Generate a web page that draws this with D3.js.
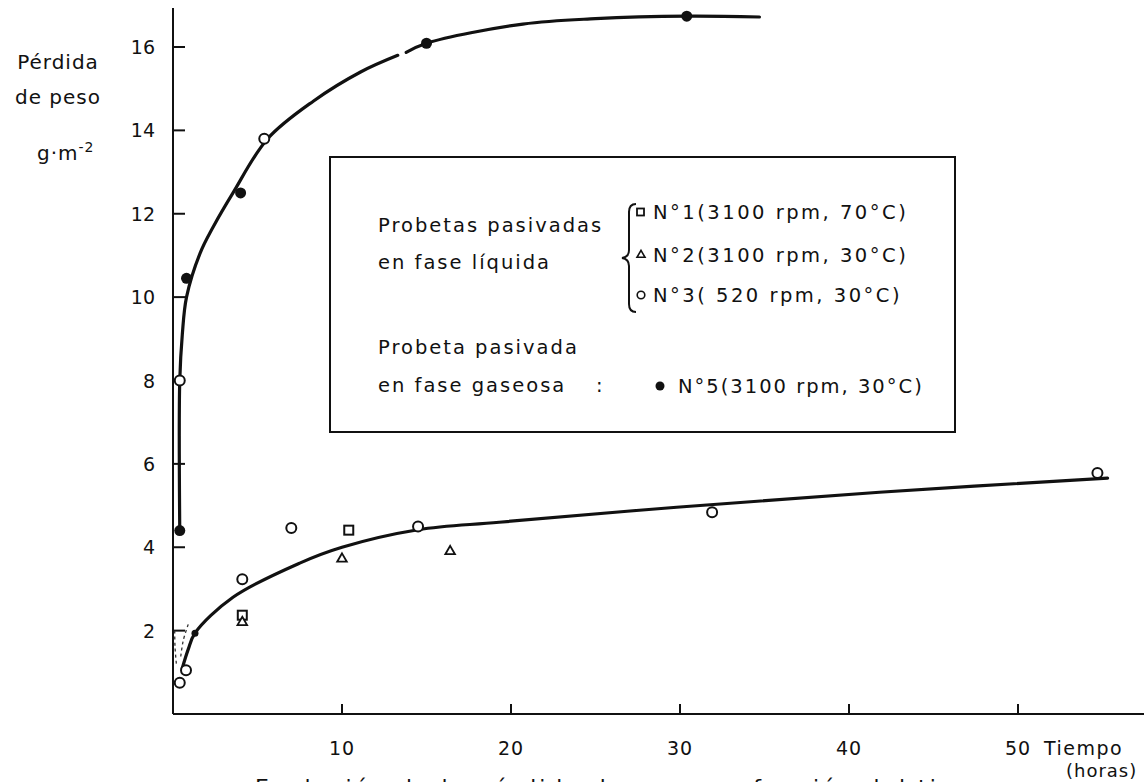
<!DOCTYPE html>
<head>
<meta charset="utf-8">
<script src="https://d3js.org/d3.v7.min.js"></script>
<style>
  body { margin: 0; background: #fff; }
  text { font-family: "DejaVu Sans", sans-serif; fill: #111; }
</style>
</head>
<body>
<div id="datavis"></div>

<script type="text/javascript">
    // data: [tiempo (horas), perdida (g/m2)]
    var xTicks = [10, 20, 30, 40, 50];
    var yTicks = [2, 4, 6, 8, 10, 12, 14, 16];

    var n1Square = [[10.4, 4.41], [4.1, 2.37]];
    var n2Triangle = [[10.0, 3.72], [16.4, 3.9], [4.1, 2.2]];
    var n3Circle = [[0.4, 0.75], [0.77, 1.05], [4.1, 3.23], [7.0, 4.46], [14.5, 4.5],
                    [31.9, 4.84], [54.7, 5.78], [0.4, 8.0], [5.4, 13.8]];
    var n5Filled = [[0.4, 4.4], [0.8, 10.45], [4.0, 12.5], [15.0, 16.09], [30.4, 16.74]];
    var curveDots = [[1.3, 1.94]];

    // hand drawn fitted curves
    var gasCurveA = [[0.4, 4.4], [0.4, 8.0], [0.55, 9.1], [0.8, 10.0], [1.6, 11.05], [2.4, 11.7],
                     [3.55, 12.5], [5.6, 13.8], [8.3, 14.7], [11.1, 15.4], [13.3, 15.8]];
    var gasCurveB = [[13.8, 15.87], [15.0, 16.09], [20.7, 16.55], [25.0, 16.68], [30.4, 16.74], [34.7, 16.72]];
    var liquidCurve = [[0.55, 1.1], [0.9, 1.55], [1.3, 1.94], [3.55, 2.8], [7.5, 3.62], [10, 4.0],
                       [14.5, 4.42], [19.3, 4.6], [29.8, 4.96], [41.8, 5.32], [55.3, 5.66]];
    var dashA = [[0.1, 2.0], [0.12, 1.6], [0.2, 1.2]];
    var dashB = [[0.9, 2.15], [0.6, 1.75], [0.45, 1.35]];

    var legendLiquid = ["N°1(3100 rpm, 70°C)", "N°2(3100 rpm, 30°C)", "N°3( 520 rpm, 30°C)"];
    var legendGas = "N°5(3100 rpm, 30°C)";

    var width = 1144, height = 782;

    var svg = d3.select("#datavis")
                .append("svg")
                .attr("width", width)
                .attr("height", height);

    var x = d3.scaleLinear().domain([0, 50]).range([173, 1018]);
    var y = d3.scaleLinear().domain([0, 16]).range([714, 47]);

    // axes
    svg.append("line")
       .attr("x1", x(0)).attr("x2", x(0))
       .attr("y1", y(0)).attr("y2", 8)
       .attr("stroke", "#111").attr("stroke-width", 2);
    svg.append("line")
       .attr("x1", x(0)).attr("x2", width)
       .attr("y1", y(0)).attr("y2", y(0))
       .attr("stroke", "#111").attr("stroke-width", 2);

    svg.selectAll(".ytick")
       .data(yTicks)
       .enter().append("line")
       .attr("x1", x(0)).attr("x2", x(0) + 12)
       .attr("y1", function(d) { return y(d) }).attr("y2", function(d) { return y(d) })
       .attr("stroke", "#111").attr("stroke-width", 2);

    svg.selectAll(".ylab")
       .data(yTicks)
       .enter().append("text")
       .attr("x", 155)
       .attr("y", function(d) { return y(d) + 7 })
       .attr("text-anchor", "end")
       .style("font-size", "19px")
       .text(function(d) { return d });

    svg.selectAll(".xtick")
       .data(xTicks)
       .enter().append("line")
       .attr("x1", function(d) { return x(d) }).attr("x2", function(d) { return x(d) })
       .attr("y1", y(0)).attr("y2", y(0) - 10)
       .attr("stroke", "#111").attr("stroke-width", 2);

    svg.selectAll(".xlab")
       .data(xTicks)
       .enter().append("text")
       .attr("x", function(d) { return x(d) })
       .attr("y", 755)
       .attr("text-anchor", "middle")
       .attr("letter-spacing", 1)
       .style("font-size", "19px")
       .text(function(d) { return d });

    svg.append("text").attr("x", 1044).attr("y", 755).attr("letter-spacing", 1.5)
       .style("font-size", "19px").text("Tiempo");
    svg.append("text").attr("x", 1066).attr("y", 777).attr("letter-spacing", 1)
       .style("font-size", "18px").text("(horas)");

    // y title
    var yt = svg.append("g").style("font-size", "20px").attr("letter-spacing", 1);
    yt.append("text").attr("x", 58).attr("y", 69).attr("text-anchor", "middle").text("Pérdida");
    yt.append("text").attr("x", 58).attr("y", 104).attr("text-anchor", "middle").text("de peso");
    var unit = yt.append("text").attr("x", 37).attr("y", 160);
    unit.append("tspan").text("g·m");
    unit.append("tspan").attr("dy", -8).style("font-size", "14px").text("-2");

    // caption, cut by the bottom edge
    svg.append("text").attr("x", 255).attr("y", 795)
       .style("font-size", "22px").attr("letter-spacing", 3)
       .text("Evolución de la pérdida de peso en función del tiempo");

    // curves
    var line = d3.line()
                 .x(function(d) { return x(d[0]) })
                 .y(function(d) { return y(d[1]) })
                 .curve(d3.curveCatmullRom.alpha(0.5));

    [gasCurveA, gasCurveB, liquidCurve].forEach(function(c) {
        svg.append("path")
           .datum(c)
           .attr("fill", "none")
           .attr("stroke", "#111")
           .attr("stroke-width", 3.2)
           .attr("stroke-linecap", "round")
           .attr("d", line);
    });

    [dashA, dashB].forEach(function(c) {
        svg.append("path")
           .datum(c)
           .attr("fill", "none")
           .attr("stroke", "#333")
           .attr("stroke-width", 1.3)
           .attr("stroke-dasharray", "3,3")
           .attr("d", line);
    });

    // markers
    svg.selectAll(".n5")
       .data(n5Filled.concat(curveDots))
       .enter().append("circle")
       .attr("cx", function(d) { return x(d[0]) })
       .attr("cy", function(d) { return y(d[1]) })
       .attr("r", function(d, i) { return i < n5Filled.length ? 5.5 : 3.5 })
       .attr("fill", "#111");

    svg.selectAll(".n3")
       .data(n3Circle)
       .enter().append("circle")
       .attr("cx", function(d) { return x(d[0]) })
       .attr("cy", function(d) { return y(d[1]) })
       .attr("r", 5)
       .attr("fill", "#fff")
       .attr("stroke", "#111")
       .attr("stroke-width", 2);

    svg.selectAll(".n1")
       .data(n1Square)
       .enter().append("rect")
       .attr("x", function(d) { return x(d[0]) - 4.5 })
       .attr("y", function(d) { return y(d[1]) - 4.5 })
       .attr("width", 9).attr("height", 9)
       .attr("fill", "#fff")
       .attr("stroke", "#111")
       .attr("stroke-width", 2);

    var tri = d3.symbol().type(d3.symbolTriangle).size(40);
    svg.selectAll(".n2")
       .data(n2Triangle)
       .enter().append("path")
       .attr("transform", function(d) { return "translate(" + x(d[0]) + "," + y(d[1]) + ")" })
       .attr("d", tri)
       .attr("fill", "#fff")
       .attr("stroke", "#111")
       .attr("stroke-width", 1.8);

    // legend box
    svg.append("rect")
       .attr("x", 330).attr("y", 157)
       .attr("width", 625).attr("height", 275)
       .attr("fill", "#fff")
       .attr("stroke", "#111").attr("stroke-width", 2);

    var lg = svg.append("g").style("font-size", "19.5px").attr("letter-spacing", 2);
    lg.append("text").attr("x", 378).attr("y", 232).text("Probetas  pasivadas");
    lg.append("text").attr("x", 378).attr("y", 269).text("en  fase  líquida");
    lg.append("text").attr("x", 378).attr("y", 354).text("Probeta  pasivada");
    lg.append("text").attr("x", 378).attr("y", 392).text("en  fase  gaseosa");
    lg.append("text").attr("x", 596).attr("y", 392).text(":");

    // brace
    lg.append("path")
      .attr("d", "M636,204 Q629,204 629,212 L629,250 Q629,257 622,258 Q629,259 629,266 L629,304 Q629,312 636,312")
      .attr("fill", "none").attr("stroke", "#111").attr("stroke-width", 2);

    var rowY = [212, 255, 295];
    lg.selectAll(".ltext")
      .data(legendLiquid)
      .enter().append("text")
      .attr("x", 653)
      .attr("y", function(d, i) { return rowY[i] + 7 })
      .attr("letter-spacing", 2.5)
      .text(function(d) { return d });

    lg.append("rect").attr("x", 637).attr("y", rowY[0] - 3.5).attr("width", 7).attr("height", 7)
      .attr("fill", "#fff").attr("stroke", "#111").attr("stroke-width", 1.8);
    lg.append("path").attr("transform", "translate(641," + rowY[1] + ")")
      .attr("d", d3.symbol().type(d3.symbolTriangle).size(28))
      .attr("fill", "#fff").attr("stroke", "#111").attr("stroke-width", 1.6);
    lg.append("circle").attr("cx", 641).attr("cy", rowY[2]).attr("r", 3.8)
      .attr("fill", "#fff").attr("stroke", "#111").attr("stroke-width", 1.6);

    lg.append("circle").attr("cx", 660).attr("cy", 386).attr("r", 4.5).attr("fill", "#111");
    lg.append("text").attr("x", 678).attr("y", 393).text(legendGas);
</script>
</body>
